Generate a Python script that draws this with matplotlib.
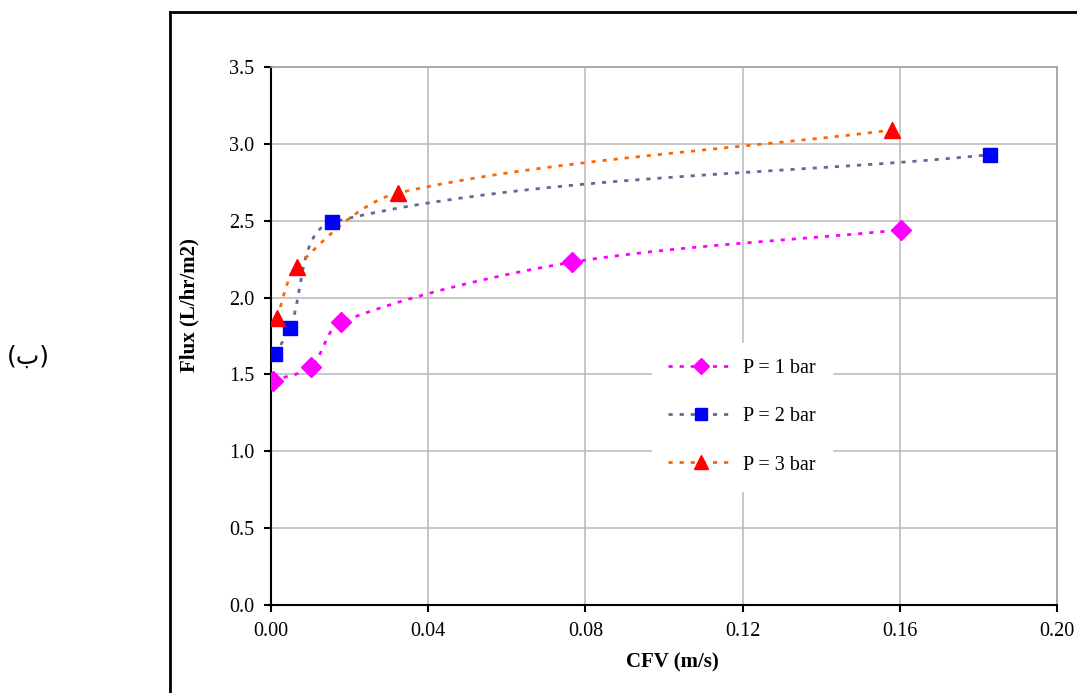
import numpy as np
import matplotlib
matplotlib.use("Agg")
import matplotlib.pyplot as plt
from matplotlib.lines import Line2D

plt.rcParams['font.family'] = ['Liberation Serif', 'DejaVu Serif']

# Data
cfv_p1 = [0.0005, 0.0102, 0.0178, 0.0766, 0.1603]
flux_p1 = [1.46, 1.55, 1.84, 2.23, 2.44]
cfv_p2 = [0.0010, 0.0048, 0.0155, 0.1830]
flux_p2 = [1.63, 1.80, 2.49, 2.93]
cfv_p3 = [0.0015, 0.0066, 0.0323, 0.1580]
flux_p3 = [1.87, 2.20, 2.68, 3.09]
labels = ["P = 1 bar", "P = 2 bar", "P = 3 bar"]
xticks = [0.00, 0.04, 0.08, 0.12, 0.16, 0.20]
yticks = [0.0, 0.5, 1.0, 1.5, 2.0, 2.5, 3.0, 3.5]


def smooth_display(ax, xs, ys, n=50, k=0.3):
    """Smoothed (Bezier) rendering path through the points, built in display space."""
    pts = ax.transData.transform(np.column_stack([xs, ys]))
    m = len(pts)
    out = []
    for i in range(m - 1):
        p1, p2 = pts[i], pts[i + 1]
        seg = np.linalg.norm(p2 - p1)
        p0 = pts[i - 1] if i > 0 else p1
        p3 = pts[i + 2] if i + 2 < m else p2
        d1 = p2 - p0
        d2 = p3 - p1
        d1 = d1 / np.linalg.norm(d1)
        d2 = d2 / np.linalg.norm(d2)
        c1 = p1 + d1 * seg * k
        c2 = p2 - d2 * seg * k
        s = np.linspace(0, 1, n)[:, None]
        b = (1-s)**3*p1 + 3*(1-s)**2*s*c1 + 3*(1-s)*s**2*c2 + s**3*p2
        out.append(b)
    out = np.vstack(out)
    data = ax.transData.inverted().transform(out)
    return data[:, 0], data[:, 1]


fig = plt.figure(figsize=(10.77, 6.93), dpi=100)
W, H = 1077, 693
ax = fig.add_axes([271/W, 1 - 605/H, (1057-271)/W, (605-67)/H])
ax.set_xlim(0, 0.20)
ax.set_ylim(0, 3.5)

series = [
    (cfv_p1, flux_p1, '#FF00FF', '#FF00FF', 'D', 10),
    (cfv_p2, flux_p2, '#666699', '#0000FF', 's', 10),
    (cfv_p3, flux_p3, '#FF6600', '#FF0000', '^', 11.5),
]
dash = (0, (1.5, 2.5))
handles = []
for (xs, ys, lc, mc, mk, ms), lab in zip(series, labels):
    sx, sy = smooth_display(ax, xs, ys)
    ax.plot(sx, sy, color=lc, lw=2, ls=dash, zorder=3)
    ax.plot(xs, ys, ls='none', marker=mk, ms=ms, color=mc, mec=mc, zorder=4)
    handles.append(Line2D([], [], color=lc, lw=2, ls=dash,
                          marker=mk, ms=ms * 0.85, mfc=mc, mec=mc))

ax.set_xticks(xticks)
ax.set_xticklabels([f"{v:.2f}" for v in xticks])
ax.set_yticks(yticks)
ax.set_yticklabels([f"{v:.1f}" for v in yticks])
ax.grid(True, color='#BDBDBD', lw=1.2)
ax.set_axisbelow(True)
for s in ['top', 'right']:
    ax.spines[s].set_color('#A0A0A0')
    ax.spines[s].set_linewidth(1.2)
for s in ['left', 'bottom']:
    ax.spines[s].set_color('black')
    ax.spines[s].set_linewidth(1.5)
ax.tick_params(direction='out', length=5, width=1.5, labelsize=14.5, pad=7, colors='black')

ax.set_xlabel("CFV (m/s)", fontsize=15, fontweight='bold')
ax.xaxis.set_label_coords((672 - 271) / 786, -(652 - 605) / 538)
ax.set_ylabel("Flux (L/hr/m2)", fontsize=15, fontweight='bold')
ax.yaxis.set_label_coords(-(271 - 199) / 786, (605 - 305) / 538)

leg = ax.legend(handles, labels, loc='center left', bbox_to_anchor=(0.4715, 0.35),
                frameon=True, fancybox=False, edgecolor='white', framealpha=1,
                fontsize=14.5, numpoints=1, handlelength=3.3, labelspacing=1.45,
                borderpad=0.8, handletextpad=0.45)

# outer chart frame (left and top edges visible)
fig.add_artist(Line2D([170/W, 170/W], [0, 1 - 12/H], color='black', lw=2,
                      transform=fig.transFigure))
fig.add_artist(Line2D([170/W, 1.0], [1 - 12/H, 1 - 12/H], color='black', lw=2,
                      transform=fig.transFigure))

fig.text(28/W, 1 - 357/H, "(ب)", fontsize=18,
         family=['DejaVu Sans'], ha='center', va='center')

fig.savefig("out.png", dpi=100, facecolor='white')
